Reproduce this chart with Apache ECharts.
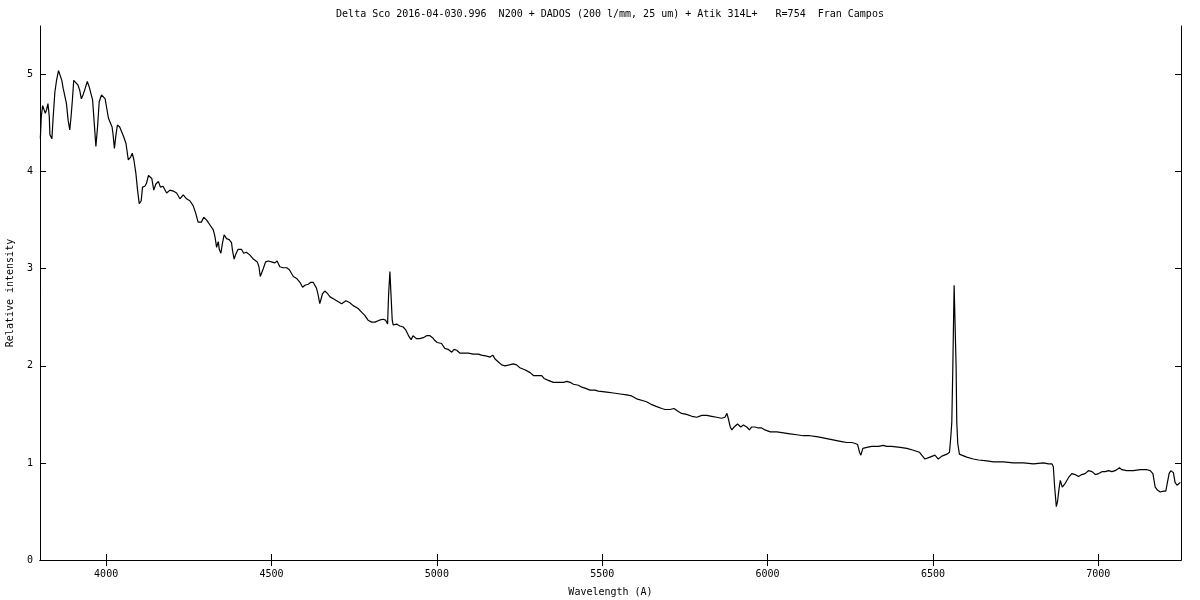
<!DOCTYPE html>
<html>
<head>
<meta charset="utf-8">
<script src="https://cdn.jsdelivr.net/npm/echarts@6/dist/echarts.min.js"></script>
<style>
html,body{margin:0;padding:0;background:#fff;}
#chart{width:1200px;height:600px;}
</style>
</head>
<body>
<div id="chart"></div>
<script>
// Wavelength (Angstrom) and relative intensity
const wavelength = [
3801,3804,3808,3812,3816,3820,3824,3828,3830,3836,3840,3845,3850,3856,3861,3866,3870,3876,3880,3885,
3890,3894,3898,3902,3908,3915,3920,3925,3930,3935,3943,3949,3954,3959,3964,3969,3974,3979,3986,3991,
3997,4002,4007,4012,4018,4021,4025,4029,4034,4041,4047,4053,4060,4067,4074,4079,4084,4090,4095,4100,
4106,4110,4117,4122,4128,4132,4138,4144,4150,4158,4164,4172,4183,4193,4203,4213,4223,4233,4243,4253,
4263,4271,4278,4283,4288,4295,4304,4314,4324,4329,4334,4339,4342,4347,4352,4357,4364,4372,4379,4382,
4387,4392,4399,4409,4416,4424,4435,4445,4457,4462,4466,4470,4475,4482,4490,4500,4510,4517,4525,4535,
4546,4554,4559,4566,4576,4581,4586,4594,4601,4611,4619,4626,4631,4636,4641,4646,4648,4654,4661,4668,
4677,4687,4693,4702,4712,4725,4737,4747,4762,4773,4782,4792,4803,4813,4826,4837,4845,4851,4854,4858,
4862,4865,4868,4878,4888,4898,4906,4912,4916,4922,4928,4938,4948,4959,4969,4979,4987,4994,5001,5014,
5024,5034,5045,5052,5060,5070,5085,5095,5100,5110,5125,5135,5151,5161,5169,5176,5186,5196,5206,5219,
5231,5241,5251,5266,5282,5292,5307,5317,5324,5337,5352,5367,5383,5393,5403,5413,5428,5438,5448,5463,
5478,5488,5493,5514,5534,5554,5574,5589,5604,5624,5634,5650,5665,5680,5690,5705,5717,5730,5740,5755,
5771,5786,5801,5816,5831,5846,5861,5871,5877,5881,5887,5892,5899,5909,5919,5927,5937,5945,5952,5962,
5972,5982,5992,6008,6028,6048,6068,6088,6108,6128,6148,6164,6179,6194,6209,6224,6239,6255,6265,6272,
6278,6282,6288,6300,6315,6335,6350,6360,6375,6401,6421,6441,6459,6466,6476,6491,6506,6516,6527,6542,
6550,6554,6557,6560,6564,6567,6570,6572,6575,6580,6587,6602,6622,6638,6663,6683,6713,6743,6774,6804,
6834,6849,6860,6864,6868,6873,6877,6881,6885,6891,6900,6910,6920,6930,6940,6950,6960,6970,6981,6991,
7001,7011,7021,7031,7041,7051,7056,7064,7071,7086,7106,7127,7147,7157,7165,7172,7179,7187,7197,7204,
7209,7214,7219,7227,7232,7238,7243,7248
];
const intensity = [
4.34,4.57,4.68,4.69,4.60,4.64,4.70,4.57,4.38,4.34,4.57,4.82,4.94,5.04,5.04,4.94,4.86,4.84,4.70,4.53,
4.43,4.57,4.74,4.94,4.94,4.89,4.84,4.75,4.79,4.84,4.93,4.87,4.85,4.74,4.50,4.26,4.46,4.72,4.79,4.81,
4.75,4.74,4.55,4.56,4.46,4.38,4.24,4.36,4.48,4.46,4.45,4.36,4.29,4.12,4.15,4.19,4.12,3.98,3.81,3.67,
3.70,3.84,3.85,3.88,3.96,3.97,3.93,3.81,3.87,3.90,3.84,3.85,3.78,3.81,3.80,3.78,3.72,3.76,3.72,3.70,
3.65,3.57,3.48,3.46,3.48,3.53,3.50,3.45,3.40,3.33,3.22,3.28,3.20,3.16,3.27,3.35,3.31,3.30,3.27,3.19,
3.10,3.15,3.20,3.20,3.16,3.17,3.14,3.10,3.07,3.02,2.92,2.90,3.00,3.07,3.08,3.07,3.06,3.08,3.02,3.01,
3.01,2.99,2.97,2.92,2.90,2.92,2.86,2.81,2.83,2.84,2.86,2.86,2.83,2.80,2.73,2.64,2.62,2.74,2.77,2.75,
2.71,2.69,2.68,2.66,2.64,2.67,2.65,2.62,2.59,2.55,2.52,2.47,2.45,2.45,2.47,2.48,2.47,2.43,2.73,2.97,
2.97,2.47,2.42,2.43,2.41,2.40,2.37,2.37,2.30,2.27,2.31,2.28,2.28,2.29,2.31,2.31,2.29,2.26,2.24,2.23,
2.18,2.17,2.14,2.17,2.16,2.13,2.13,2.13,2.13,2.12,2.12,2.11,2.10,2.09,2.11,2.07,2.04,2.01,2.00,2.01,
2.02,2.01,1.98,1.96,1.93,1.90,1.90,1.90,1.87,1.85,1.83,1.83,1.83,1.84,1.83,1.81,1.80,1.78,1.77,1.75,
1.75,1.74,1.74,1.73,1.72,1.71,1.70,1.69,1.66,1.64,1.63,1.60,1.58,1.56,1.55,1.55,1.56,1.53,1.51,1.50,
1.48,1.47,1.49,1.49,1.48,1.47,1.46,1.47,1.51,1.46,1.37,1.34,1.37,1.40,1.37,1.39,1.37,1.34,1.37,1.37,
1.36,1.36,1.34,1.32,1.32,1.31,1.30,1.29,1.28,1.28,1.27,1.26,1.25,1.24,1.23,1.22,1.21,1.21,1.20,1.19,
1.11,1.08,1.15,1.16,1.17,1.17,1.18,1.17,1.17,1.16,1.15,1.13,1.11,1.08,1.04,1.06,1.08,1.04,1.07,1.09,
1.11,1.27,1.42,1.97,2.83,2.83,1.99,1.42,1.20,1.09,1.08,1.06,1.04,1.03,1.02,1.01,1.01,1.00,1.00,0.99,
1.00,0.99,0.99,0.96,0.75,0.55,0.61,0.73,0.82,0.75,0.79,0.85,0.89,0.88,0.86,0.88,0.89,0.92,0.91,0.88,
0.89,0.91,0.91,0.92,0.91,0.92,0.91,0.95,0.93,0.92,0.92,0.93,0.93,0.92,0.89,0.75,0.72,0.70,0.71,0.71,
0.73,0.89,0.92,0.90,0.80,0.77,0.78,0.80
];
const xTicks = [4000,4500,5000,5500,6000,6500,7000];
const yTicks = [0,1,2,3,4,5];
const titleText = 'Delta Sco 2016-04-030.996  N200 + DADOS (200 l/mm, 25 um) + Atik 314L+   R=754  Fran Campos';

const FONT = 'DejaVu Sans Mono';
const seriesData = wavelength.map((w, i) => [w, intensity[i]]);

const lineStyleAxis = {show: true, lineStyle: {color: '#000', width: 1}};
const tickStyle = (vals) => ({show: true, inside: true, length: 6, customValues: vals, lineStyle: {color: '#000', width: 1}});
const plain = (v) => String(v);

const chart = echarts.init(document.getElementById('chart'), null, {renderer: 'canvas'});
chart.setOption({
  animation: false,
  backgroundColor: '#fff',
  graphic: [{
    type: 'text',
    x: 610, y: 14,
    style: {text: titleText, font: '10px "' + FONT + '"', fill: '#000', align: 'center', verticalAlign: 'middle', textAlign: 'center', textVerticalAlign: 'middle'}
  }],
  grid: {left: 40, right: 19, top: 26, bottom: 40, containLabel: false, outerBoundsMode: 'none'},
  xAxis: [{
    type: 'value', min: 3800, max: 7250, position: 'bottom',
    name: 'Wavelength (A)', nameLocation: 'middle', nameGap: 27,
    nameTextStyle: {fontFamily: FONT, fontSize: 10, color: '#000'},
    axisLine: lineStyleAxis,
    axisTick: tickStyle(xTicks),
    axisLabel: {customValues: xTicks, formatter: plain, fontFamily: FONT, fontSize: 10, color: '#000', margin: 9},
    splitLine: {show: false}
  }, {
    type: 'value', min: 3800, max: 7250, position: 'top',
    axisLine: lineStyleAxis,
    axisTick: tickStyle(xTicks),
    axisLabel: {show: false, customValues: xTicks},
    splitLine: {show: false}
  }],
  yAxis: [{
    type: 'value', min: 0, max: 5.5, position: 'left',
    name: 'Relative intensity', nameLocation: 'middle', nameGap: 25, nameRotate: 90,
    nameTextStyle: {fontFamily: FONT, fontSize: 10, color: '#000'},
    axisLine: lineStyleAxis,
    axisTick: tickStyle(yTicks),
    axisLabel: {customValues: yTicks, formatter: plain, fontFamily: FONT, fontSize: 10, color: '#000', margin: 7},
    splitLine: {show: false}
  }, {
    type: 'value', min: 0, max: 5.5, position: 'right',
    axisLine: lineStyleAxis,
    axisTick: tickStyle(yTicks),
    axisLabel: {show: false, customValues: yTicks},
    splitLine: {show: false}
  }],
  series: [{
    type: 'line',
    xAxisIndex: 0, yAxisIndex: 0,
    data: seriesData,
    showSymbol: false,
    symbol: 'none',
    lineStyle: {color: '#000', width: 1.2},
    silent: true
  }]
});
</script>
</body>
</html>
